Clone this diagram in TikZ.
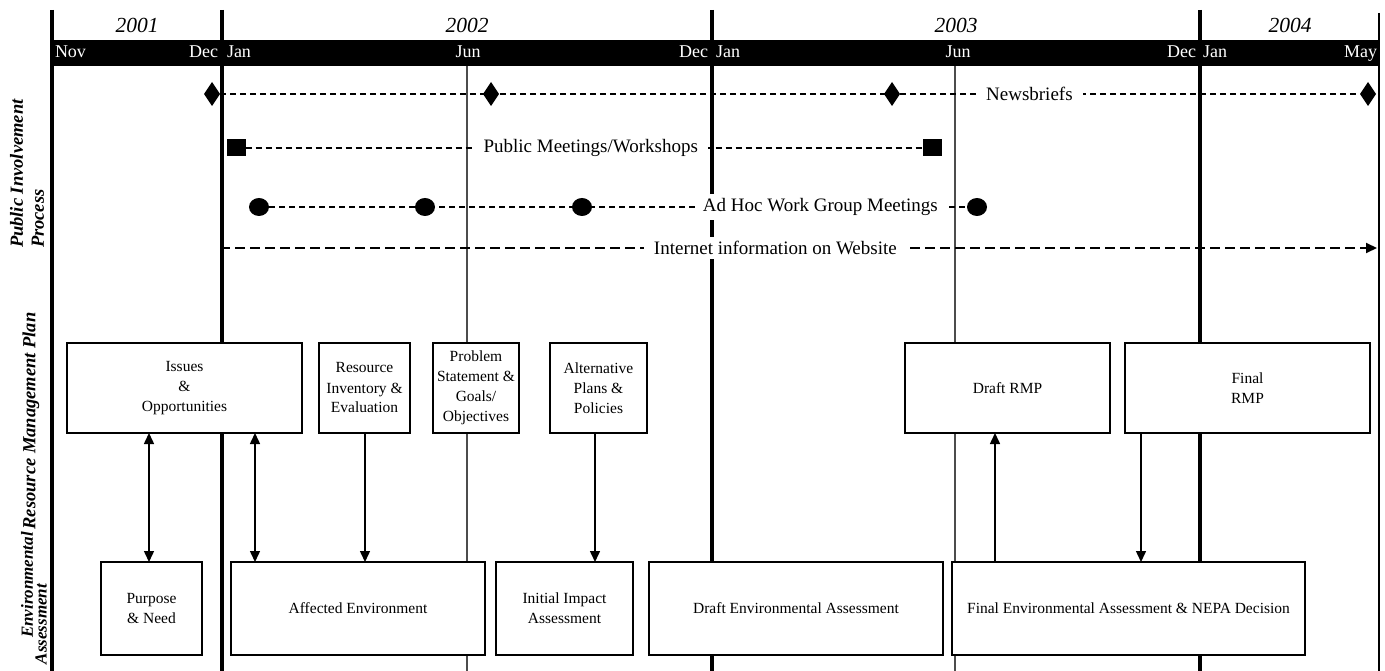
\documentclass[tikz,border=0pt]{standalone}
\usepackage{fontspec}
\setmainfont{Liberation Serif}
\usetikzlibrary{shapes.geometric,arrows.meta}

\begin{document}
\begin{tikzpicture}
  [x=1pt,y=-1pt,every node/.style={inner sep=0pt,outer sep=0pt},
   >={Triangle[width=10pt,length=11pt]}]
  \tikzstyle{yearline} = [line width=3.5pt]
  \tikzstyle{junline} = [line width=1.3pt,black!70]
  \tikzstyle{monthlabel} = [text=white,font=\fontsize{18}{20}\selectfont]
  \tikzstyle{yearlabel} = [font=\fontsize{21.5}{24}\selectfont\itshape]
  \tikzstyle{sidelabel} = [rotate=90,font=\fontsize{18.5}{21}\selectfont\bfseries\itshape]
  \tikzstyle{newsmark} = [diamond,fill=black,minimum width=16pt,minimum height=24pt]
  \tikzstyle{meetmark} = [rectangle,fill=black,minimum width=19pt,minimum height=17pt]
  \tikzstyle{adhocmark} = [ellipse,fill=black,minimum width=20pt,minimum height=18pt]
  \tikzstyle{track} = [dash pattern=on 6pt off 4pt,line width=1.1pt]
  \tikzstyle{webtrack} = [dash pattern=on 10pt off 5pt,line width=2pt]
  \tikzstyle{rowlabel} = [fill=white,inner xsep=10pt,inner ysep=4pt,font=\fontsize{19}{22}\selectfont]
  \tikzstyle{box} = [draw,fill=white,line width=1.1pt,align=center,font=\fontsize{15.5}{20}\selectfont]
  \tikzstyle{link} = [line width=1.5pt]
  \useasboundingbox (0,0) rectangle (1385,671);

  \fill (50.25,40) rectangle (1380,66);
  \foreach \x in {52,222,712,1200}
    \draw[yearline] (\x,10) -- (\x,671);
  \draw[line width=2.5pt] (1379,13) -- (1379,671);
  \foreach \x in {467,955}
    \draw[junline] (\x,66) -- (\x,671);
  \foreach \x/\yr in {137/2001,467/2002,956/2003,1290/2004}
    \node[yearlabel,anchor=base] (y\yr) at (\x,33) {\yr};
  \foreach \x/\a/\m in {55/base west/Nov,218/base east/Dec,227/base west/Jan,468/base/Jun,
      708/base east/Dec,716/base west/Jan,958/base/Jun,1196/base east/Dec,1203/base west/Jan,1377/base east/May}
    \node[monthlabel,anchor=\a] (m\x) at (\x,58) {\m};

  \foreach \n/\x in {1/212,2/491,3/892,4/1368}
    \node[newsmark] (nb\n) at (\x,94) {};
  \draw[track] (nb1) -- node[rowlabel,pos=.71] (nbl) {Newsbriefs} (nb4);
  \foreach \n/\x in {1/236,2/932}
    \node[meetmark] (pm\n) at (\x,148) {};
  \draw[track] (pm1) -- node[rowlabel,pos=.51] (pml) {Public Meetings/Workshops} (pm2);
  \foreach \n/\x in {1/259,2/425,3/582,4/977}
    \node[adhocmark] (ah\n) at (\x,207) {};
  \draw[track] (ah1) -- node[rowlabel,pos=.79,inner xsep=8pt] (ahl) {Ad Hoc Work Group Meetings} (ah4);
  \coordinate (web0) at (220,248);
  \coordinate (web1) at (1377,248);
  \draw[webtrack,->] (web0) -- node[rowlabel,pos=.48] (webl) {Internet information on Website} (web1);

  \node[box,minimum width=235pt,minimum height=90pt] (issues) at (184.5,388) {Issues\\\&\\Opportunities};
  \node[box,minimum width=91pt,minimum height=90pt] (resinv) at (364.5,388) {Resource\\Inventory \&\\Evaluation};
  \node[box,minimum width=86pt,minimum height=90pt] (problem) at (476,388) {Problem\\Statement \&\\Goals/\\Objectives};
  \node[box,minimum width=97pt,minimum height=90pt] (alt) at (598.5,388) {Alternative\\Plans \&\\Policies};
  \node[box,minimum width=205pt,minimum height=90pt] (draftrmp) at (1007.5,388) {Draft RMP};
  \node[box,minimum width=245pt,minimum height=90pt] (finalrmp) at (1247.5,388) {Final\\RMP};

  \node[box,minimum width=101pt,minimum height=93pt] (purpose) at (151.5,608.5) {Purpose\\\& Need};
  \node[box,minimum width=254pt,minimum height=93pt] (affected) at (358,608.5) {Affected Environment};
  \node[box,minimum width=137pt,minimum height=93pt] (initial) at (564.5,608.5) {Initial Impact\\Assessment};
  \node[box,minimum width=294pt,minimum height=93pt] (draftea) at (796,608.5) {Draft Environmental Assessment};
  \node[box,minimum width=353pt,minimum height=93pt] (finalea) at (1128.5,608.5) {Final Environmental Assessment \& NEPA Decision};

  \foreach \from/\to/\x/\dir in {issues/purpose/149/<->,issues/affected/255/<->,resinv/affected/365/->,
      alt/initial/595/->,draftrmp/finalea/995/<-,finalrmp/finalea/1141/->}
    \draw[link,\dir] (\from.south -| \x,0) -- (\to.north -| \x,0);

  \node[sidelabel,anchor=north west,align=left] (pip) at (10,248) {Public Involvement\\Process};
  \node[sidelabel] (rmpl) at (31,421) {Resource Management Plan};
  \node[sidelabel,font=\fontsize{17}{19}\selectfont\bfseries\itshape] (envl) at (27,585) {Environmental};
  \node[sidelabel,font=\fontsize{17}{19}\selectfont\bfseries\itshape] (assl) at (41,624) {Assessment};
\end{tikzpicture}
\end{document}
